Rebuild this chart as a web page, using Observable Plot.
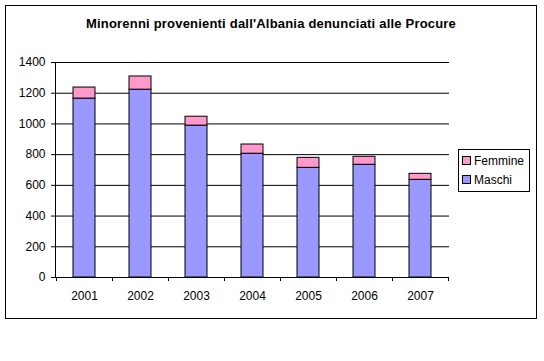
<!DOCTYPE html>
<html>
<head>
<meta charset="utf-8">
<script src="https://cdn.jsdelivr.net/npm/d3@7"></script>
<script src="https://cdn.jsdelivr.net/npm/@observablehq/plot@0.6"></script>
<style>
  html, body { margin: 0; padding: 0; background: #fff; }
  #wrap { position: relative; width: 544px; height: 361px; font-family: "Liberation Sans", Arial, sans-serif; }
  #border { position: absolute; left: 5px; top: 5px; width: 530px; height: 312px; border: 1px solid #000; box-sizing: content-box; pointer-events: none; }
  #title { position: absolute; left: 5px; width: 532px; top: 16px; text-align: center; font-weight: bold; font-size: 13px; letter-spacing: 0.2px; color: #000; }
  #legend { position: absolute; left: 458px; top: 149px; width: 70px; height: 41px; border: 1px solid #000; font-size: 12px; background: #fff; }
  .item { position: absolute; left: 3px; height: 14px; line-height: 14px; white-space: nowrap; }
  .sw { display: inline-block; width: 7px; height: 7px; border: 1px solid #000; margin-right: 3px; vertical-align: 0px; }
  #chart { position: absolute; left: 0; top: 0; }
</style>
</head>
<body>
<div id="wrap">
  <div id="chart"></div>
  <div id="border"></div>
  <div id="title"></div>
  <div id="legend"></div>
</div>
<script>
const title = "Minorenni provenienti dall'Albania denunciati alle Procure";
const years = ["2001", "2002", "2003", "2004", "2005", "2006", "2007"];
const maschi = [1165, 1223, 989, 806, 714, 734, 636];
const femmine = [72, 86, 58, 60, 65, 52, 39];
const seriesNames = ["Maschi", "Femmine"];
const seriesColors = ["#9999FF", "#FF99CC"];
const yTicks = [0, 200, 400, 600, 800, 1000, 1200, 1400];

const rows = [];
years.forEach((y, i) => {
  rows.push({year: y, series: "Maschi", value: maschi[i]});
  rows.push({year: y, series: "Femmine", value: femmine[i]});
});

const W = 544, H = 361;
const plot = Plot.plot({
  width: W,
  height: H,
  marginLeft: 55,
  marginRight: 95,
  marginTop: 62,
  marginBottom: 84,
  style: {fontFamily: "'Liberation Sans', Arial, sans-serif", fontSize: "12px", color: "#000", background: "transparent"},
  x: {domain: years, paddingInner: 0.6, paddingOuter: 0.3, label: null},
  y: {domain: [0, 1400], label: null},
  color: {domain: seriesNames, range: seriesColors},
  marks: [
    Plot.ruleY(yTicks, {stroke: "#000", strokeWidth: 1}),
    Plot.barY(rows, {x: "year", y: "value", fill: "series", stroke: "#000", strokeWidth: 1, order: seriesNames, inset: 0}),
    Plot.frame({anchor: "left", stroke: "#000"}),
    Plot.ruleY([0], {stroke: "#000"}),
    Plot.axisY({ticks: yTicks, tickSize: 4, tickPadding: 6, tickFormat: d => String(d), stroke: "#000", fill: "#000", fontSize: 12, label: null}),
    Plot.axisX({tickSize: 0, tickPadding: 14, fill: "#000", fontSize: 12, label: null})
  ]
});
document.getElementById("chart").appendChild(plot);

// Category boundary ticks on the x axis, from the plot's own x scale
const sx = plot.scale("x");
const sy = plot.scale("y");
const gap = sx.step - sx.bandwidth;
const bounds = years.map(y => sx.apply(y) - gap / 2);
bounds.push(sx.apply(years[years.length - 1]) + sx.bandwidth + gap / 2);
const y0 = sy.apply(0);
d3.select(plot).append("g")
  .attr("stroke", "#000")
  .selectAll("line").data(bounds).join("line")
  .attr("x1", d => Math.round(d) + 0.5).attr("x2", d => Math.round(d) + 0.5)
  .attr("y1", y0).attr("y2", y0 + 4);

document.getElementById("title").textContent = title;
const legend = document.getElementById("legend");
["Femmine", "Maschi"].forEach((name, i) => {
  const c = seriesColors[seriesNames.indexOf(name)];
  const d = document.createElement("div");
  d.className = "item";
  d.style.top = (4 + i * 19) + "px";
  d.innerHTML = `<span class="sw" style="background:${c}"></span>${name}`;
  legend.appendChild(d);
});
</script>
</body>
</html>
